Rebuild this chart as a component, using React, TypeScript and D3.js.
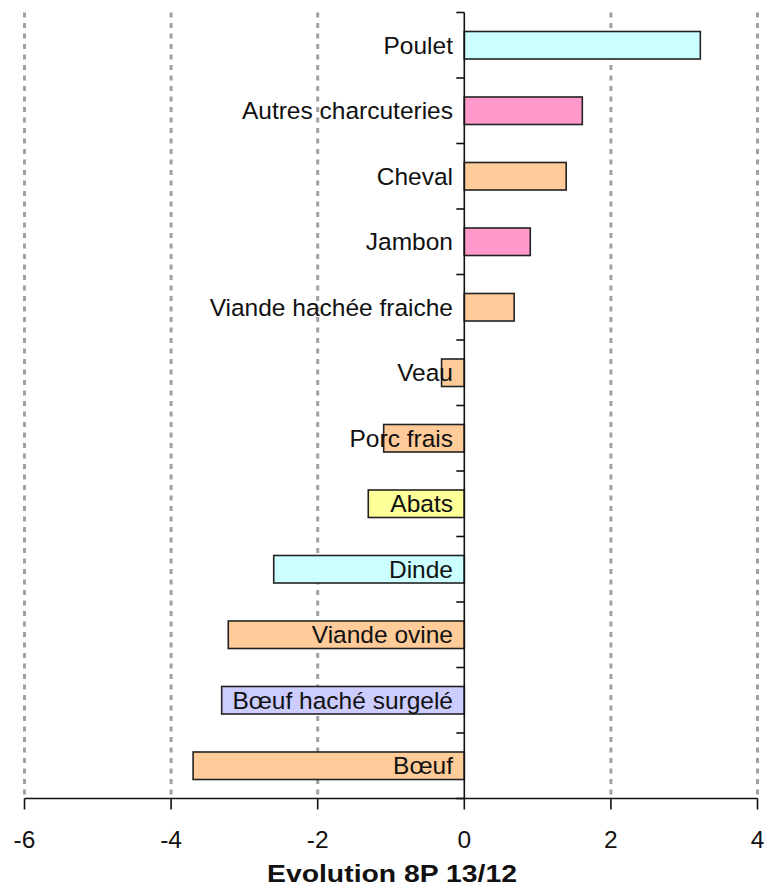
import React from "react";
import * as d3 from "d3";

const categories = [
  "Poulet",
  "Autres charcuteries",
  "Cheval",
  "Jambon",
  "Viande hachée fraiche",
  "Veau",
  "Porc frais",
  "Abats",
  "Dinde",
  "Viande ovine",
  "Bœuf haché surgelé",
  "Bœuf",
];
const values = [3.22, 1.61, 1.39, 0.9, 0.68, -0.31, -1.1, -1.31, -2.6, -3.22, -3.31, -3.7];
const barColors = [
  "#CCFFFF",
  "#FF99CC",
  "#FFCC99",
  "#FF99CC",
  "#FFCC99",
  "#FFCC99",
  "#FFCC99",
  "#FFFF99",
  "#CCFFFF",
  "#FFCC99",
  "#CCCCFF",
  "#FFCC99",
];
const xTicks = [-6, -4, -2, 0, 2, 4];
const xTitle = "Evolution 8P 13/12";

export default function App() {
  const W = 764;
  const H = 890;
  const top = 12.5;
  const bottom = 798.5;
  const x = d3.scaleLinear().domain([-6, 4]).range([24.5, 757.5]);
  const pin = 0.58;
  const y = d3
    .scaleBand<string>()
    .domain(categories)
    .range([top, bottom])
    .paddingInner(pin)
    .paddingOuter(pin / 2);
  const font = "'Liberation Sans', Arial, sans-serif";
  const n = categories.length;
  const boundaries = d3.range(n + 1).map((i) => top + (i * (bottom - top)) / n);

  return (
    <svg width={W} height={H} style={{ position: "absolute", left: 0, top: 0, background: "#fff" }}>
      <rect width={W} height={H} fill="#fff" />
      {xTicks.filter((t) => t !== 0).map((t) => (
        <line key={"g" + t} x1={x(t)} x2={x(t)} y1={top} y2={bottom} stroke="#a0a0a0" strokeWidth={3} strokeDasharray="5,5.5" />
      ))}
      {categories.map((c, i) => {
        const v = values[i];
        const x0 = Math.min(x(0), x(v));
        const w = Math.abs(x(v) - x(0));
        return (
          <rect key={c} x={x0} y={y(c)} width={w} height={y.bandwidth()} fill={barColors[i]} stroke="#222" strokeWidth={1.6} />
        );
      })}
      {categories.map((c) => (
        <text key={"l" + c} x={453} y={y(c)! + y.bandwidth() / 2} dy="0.34em" textAnchor="end" fontFamily={font} fontSize={24.5} fill="#111">
          {c}
        </text>
      ))}
      <line x1={x(0)} x2={x(0)} y1={top} y2={bottom} stroke="#111" strokeWidth={1.6} />
      {boundaries.map((b, i) => (
        <line key={"yt" + i} x1={x(0) - 8} x2={x(0)} y1={b} y2={b} stroke="#111" strokeWidth={1.6} />
      ))}
      <line x1={x(-6)} x2={x(4)} y1={bottom} y2={bottom} stroke="#111" strokeWidth={1.6} />
      {xTicks.map((t) => (
        <g key={"xt" + t}>
          <line x1={x(t)} x2={x(t)} y1={bottom} y2={bottom + 11} stroke="#111" strokeWidth={1.6} />
          <text x={x(t)} y={848} textAnchor="middle" fontFamily={font} fontSize={24.5} fill="#111">
            {t}
          </text>
        </g>
      ))}
      <text x={392} y={882} textAnchor="middle" fontFamily={font} fontSize={23} fontWeight="bold" fill="#111" textLength={250} lengthAdjust="spacingAndGlyphs">
        {xTitle}
      </text>
    </svg>
  );
}
